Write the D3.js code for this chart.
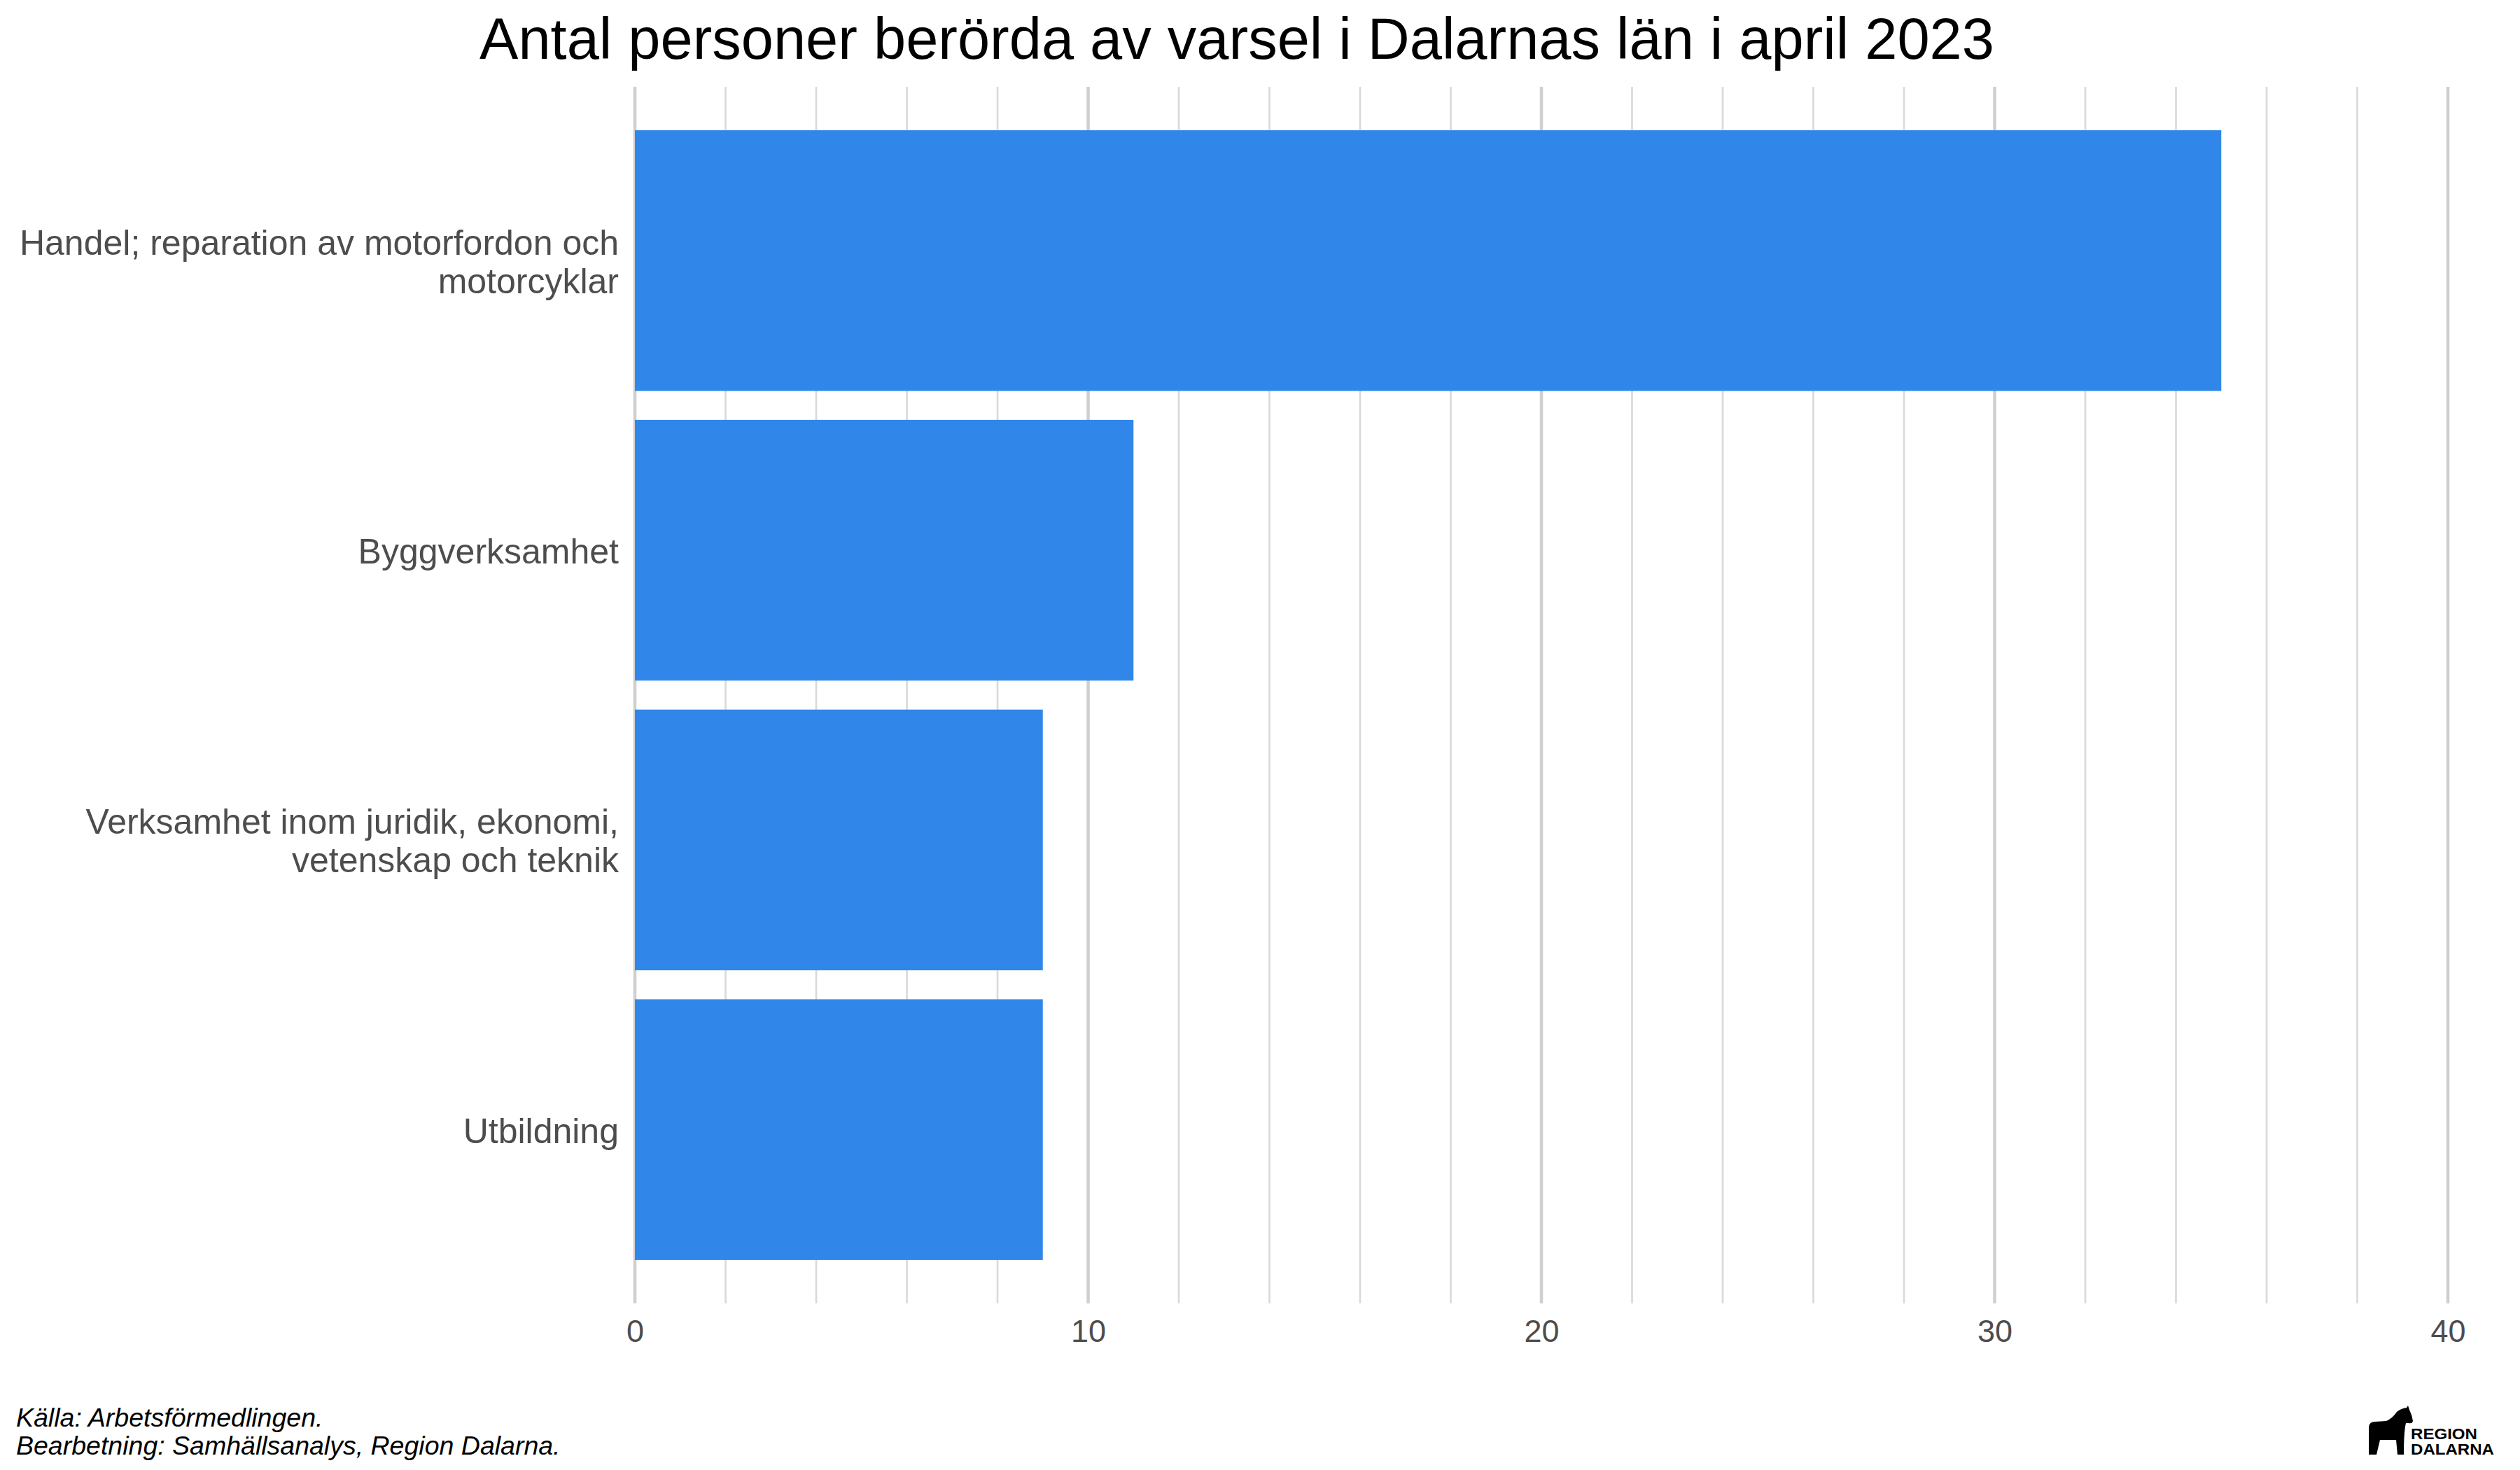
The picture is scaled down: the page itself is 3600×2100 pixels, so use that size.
<!DOCTYPE html>
<html>
<head>
<meta charset="utf-8">
<script src="https://cdn.jsdelivr.net/npm/d3@7"></script>
<style>
  html, body { margin: 0; padding: 0; background: #fff; }
  text { font-family: "Liberation Sans", Arial, sans-serif; }
</style>
</head>
<body>
<div id="chart"></div>
<script>
// data
const categories = [
    ["Handel; reparation av motorfordon och", "motorcyklar"],
    ["Byggverksamhet"],
    ["Verksamhet inom juridik, ekonomi,", "vetenskap och teknik"],
    ["Utbildning"]
];
const values = [35, 11, 9, 9];
const xTicks = [0, 10, 20, 30, 40];
const title = "Antal personer berörda av varsel i Dalarnas län i april 2023";
const captionLines = ["Källa: Arbetsförmedlingen.", "Bearbetning: Samhällsanalys, Region Dalarna."];

window.onload = drawChart;

function drawChart() {
    const width = 3600;
    const height = 2100;
    const left = 907, right = 3497, top = 124, bottom = 1862;

    let svg = d3.select("#chart")
        .append("svg")
        .attr("width", width)
        .attr("height", height)
        .attr("viewBox", `0 0 ${width} ${height}`);

    let x = d3.scaleLinear().domain([0, 40]).range([left, right]);
    let y = d3.scaleBand()
        .domain(d3.range(categories.length))
        .range([top, bottom])
        .paddingInner(0.1)
        .paddingOuter(0.15);

    // grid: minor every 2, major every 10
    let minor = d3.range(0, 41, 2).filter(d => d % 10 !== 0);
    svg.append("g").selectAll("line")
        .data(minor)
        .join("line")
        .attr("x1", d => x(d)).attr("x2", d => x(d))
        .attr("y1", top).attr("y2", bottom)
        .attr("stroke", "#dadada")
        .attr("stroke-width", 2.7);

    svg.append("g").selectAll("line")
        .data(xTicks)
        .join("line")
        .attr("x1", d => x(d)).attr("x2", d => x(d))
        .attr("y1", top).attr("y2", bottom)
        .attr("stroke", "#cfcfcf")
        .attr("stroke-width", 4.5);

    // bars
    svg.append("g").selectAll("rect")
        .data(values)
        .join("rect")
        .attr("x", x(0))
        .attr("y", (d, i) => y(i))
        .attr("width", d => x(d) - x(0))
        .attr("height", y.bandwidth())
        .attr("fill", "#3087e9");

    // x axis labels
    let xAxis = svg.append("g")
        .attr("transform", `translate(0,${bottom})`)
        .call(d3.axisBottom(x).tickValues(xTicks).tickSize(0).tickPadding(23));
    xAxis.select(".domain").remove();
    xAxis.selectAll("text")
        .attr("font-family", "Liberation Sans, Arial, sans-serif")
        .attr("font-size", 45)
        .attr("fill", "#4d4d4d");

    // y labels, possibly two lines
    const lineGap = 55;
    let labels = svg.append("g").selectAll("text")
        .data(categories)
        .join("text")
        .attr("text-anchor", "end")
        .attr("font-size", 50)
        .attr("fill", "#4d4d4d");

    labels.each(function (lines, i) {
        let c = y(i) + y.bandwidth() / 2;
        let first = c + 19 - (lines.length - 1) * lineGap / 2;
        d3.select(this).selectAll("tspan")
            .data(lines)
            .join("tspan")
            .attr("x", 884)
            .attr("y", (d, j) => first + j * lineGap)
            .text(d => d);
    });

    // title
    svg.append("text")
        .attr("x", 1767)
        .attr("y", 84)
        .attr("text-anchor", "middle")
        .attr("font-size", 83)
        .attr("fill", "#000")
        .text(title);

    // caption
    svg.append("g").selectAll("text")
        .data(captionLines)
        .join("text")
        .attr("x", 23)
        .attr("y", (d, i) => 2038 + i * 40)
        .attr("font-size", 37.5)
        .attr("font-style", "italic")
        .attr("fill", "#000")
        .text(d => d);

    // logo: dala horse + text
    let logo = svg.append("g");
    logo.append("path")
        .attr("fill", "#000")
        .attr("d", "M3384,2078 L3384,2040 Q3384,2031 3393,2031 L3409,2030 " +
            "Q3418,2026 3424,2017 Q3430,2012 3438,2011 L3440,2008 L3442,2014 " +
            "Q3446,2022 3447,2030 Q3446,2034 3441,2033 L3437,2033 " +
            "Q3434,2045 3434,2078 L3425,2078 L3423,2057 L3400,2057 " +
            "L3395,2078 L3388,2078 Z");
    logo.append("text")
        .attr("x", 3444).attr("y", 2056)
        .attr("font-size", 22).attr("font-weight", "bold")
        .attr("textLength", 95).attr("lengthAdjust", "spacingAndGlyphs")
        .text("REGION");
    logo.append("text")
        .attr("x", 3444).attr("y", 2078)
        .attr("font-size", 22).attr("font-weight", "bold")
        .attr("textLength", 119).attr("lengthAdjust", "spacingAndGlyphs")
        .text("DALARNA");
}
</script>
</body>
</html>
